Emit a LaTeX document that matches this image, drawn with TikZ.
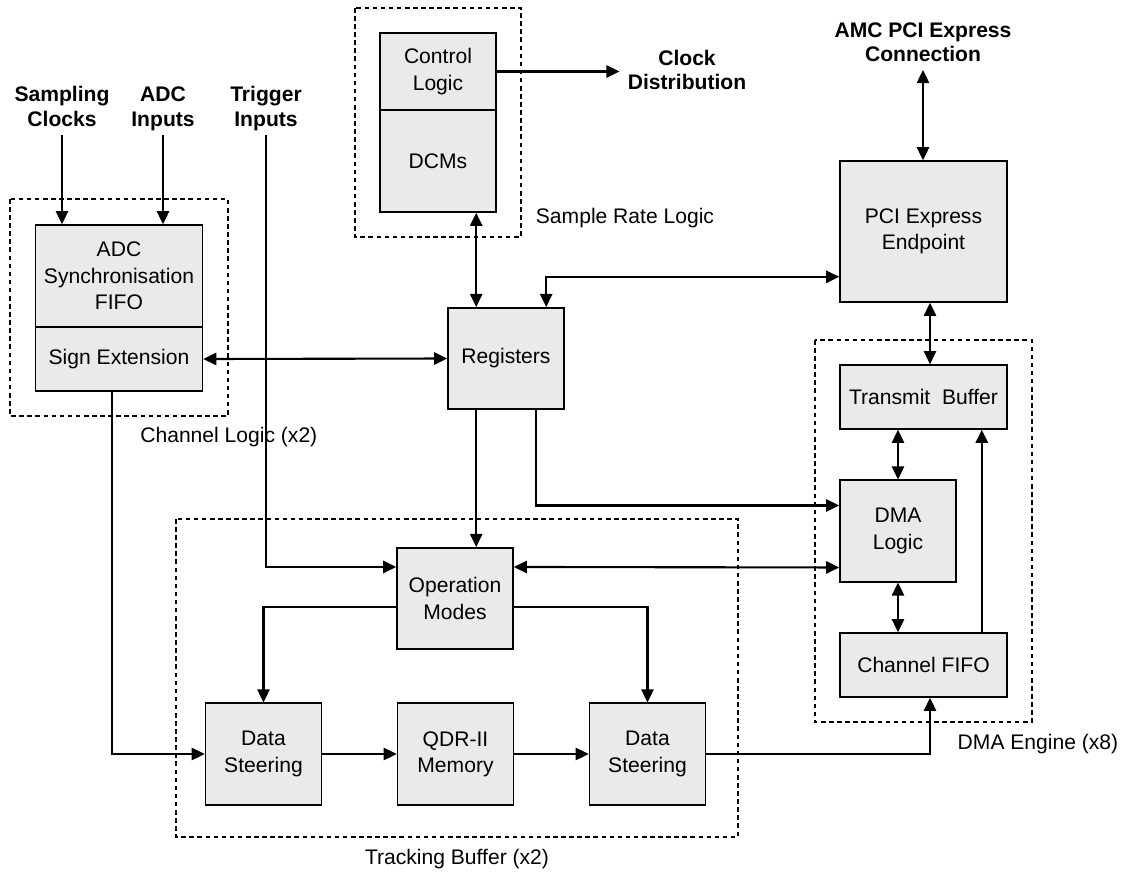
\documentclass[tikz,border=0pt]{standalone}
\usepackage{fontspec}
\setmainfont{Liberation Sans}
\usetikzlibrary{arrows.meta,calc}
\definecolor{blockfill}{RGB}{234,234,234}
\tikzstyle{block}=[draw, line width=0.9pt, fill=blockfill, align=center, inner sep=0pt, font=\fontsize{12}{15}\selectfont]
\tikzstyle{std}=[minimum width=2.32cm, minimum height=2.03cm]
\tikzstyle{wide}=[minimum width=3.34cm]
\tikzstyle{io}=[align=center, inner sep=0.16cm, text depth=0pt, font=\fontsize{12}{14}\selectfont\bfseries]
\tikzstyle{grouplabel}=[inner sep=0pt, font=\fontsize{12}{14}\selectfont]
\tikzstyle{group}=[dash pattern=on 2.6pt off 2pt, line width=0.7pt]
\tikzstyle{arr}=[-{Triangle[length=7.5pt,width=7pt]}, line width=1.2pt]
\tikzstyle{dbl}=[{Triangle[length=7.5pt,width=7pt]}-{Triangle[length=7.5pt,width=7pt]}, line width=1.2pt]

\begin{document}
\begin{tikzpicture}[x=0.02cm,y=-0.02cm]
  \useasboundingbox (0,0) rectangle (1127,873);
  %% Groups
  \draw[group] (355,8) rectangle (521,237);
  \draw[group] (10,199) rectangle (228,416);
  \draw[group] (176,519) rectangle (738,837);
  \draw[group] (815,340) rectangle (1032,722);
  \draw (625,218) node[grouplabel] {Sample Rate Logic};
  \draw (140,437) node[grouplabel, anchor=west] {Channel Logic (x2)};
  \draw (457,859) node[grouplabel] {Tracking Buffer (x2)};
  \draw (1038,744) node[grouplabel] {DMA Engine (x8)};

  %% Outside connections
  \draw (62,106.5) node[io] (sclk) {Sampling\\Clocks};
  \draw (163,106.5) node[io] (adcin) {ADC\\Inputs};
  \draw (266,106.5) node[io] (trig) {Trigger\\Inputs};
  \draw (687,70) node[io] (clkdist) {Clock\\Distribution};
  \draw (923,42) node[io] (amc) {AMC PCI Express\\Connection};

  %% Blocks
  \draw (438,71.5) node[block, minimum width=2.32cm, minimum height=1.54cm] (ctrl) {Control\\Logic};
  \draw (438,161) node[block, minimum width=2.32cm, minimum height=2.04cm] (dcm) {DCMs};
  \draw (119,276) node[block, wide, minimum height=2.04cm] (adcfifo) {ADC\\Synchronisation\\FIFO};
  \draw (119,359) node[block, wide, minimum height=1.28cm] (signext) {Sign Extension};
  \draw (506,358.5) node[block, std] (reg) {Registers};
  \draw (923.5,231.5) node[block, wide, minimum height=2.82cm] (pcie) {PCI Express\\Endpoint};
  \draw (923.5,397) node[block, wide, minimum height=1.28cm] (txbuf) {Transmit~~Buffer};
  \draw (898,531) node[block, std] (dmalogic) {DMA\\Logic};
  \draw (923.5,665) node[block, wide, minimum height=1.28cm] (chfifo) {Channel FIFO};
  \draw (455,598.5) node[block, std] (opmodes) {Operation\\Modes};
  \draw (263.5,754) node[block, std] (dsl) {Data\\Steering};
  \draw (455.5,754) node[block, std] (qdr) {QDR-II\\Memory};
  \draw (647.5,754) node[block, std] (dsr) {Data\\Steering};

  \coordinate (bus) at ($(reg.north west)+(29,0)$);

  %% Connectors
  \draw[arr] (sclk.south) -- (sclk.south |- adcfifo.north);
  \draw[arr] (adcin.south) -- (adcin.south |- adcfifo.north);
  \draw[arr] (trig.south) |- ($(opmodes.north west)+(0,20)$);
  \draw[arr] (ctrl.east) -- (ctrl.east -| clkdist.west);
  \draw[dbl] (amc.south) -- (amc.south |- pcie.north);
  \draw[dbl] (dcm.south -| bus) -- (bus);
  \draw[dbl] (signext.east) -- (reg.west);
  \draw[dbl] ($(pcie.south west)+(0,-26)$) -| ($(reg.north west)+(99,0)$);
  \draw[arr] (reg.south -| bus) -- (opmodes.north -| bus);
  \draw[arr] ($(reg.south west)+(89,0)$) |- ($(dmalogic.north west)+(0,26)$);
  \draw[dbl] ($(opmodes.north east)+(0,20)$) -- ($(dmalogic.north west)+(0,88)$);
  \draw[dbl] ($(pcie.south)+(6.5,0)$) -- ($(txbuf.north)+(6.5,0)$);
  \draw[dbl] (dmalogic.north) -- (txbuf.south -| dmalogic.north);
  \draw[dbl] (dmalogic.south) -- (chfifo.north -| dmalogic.south);
  \draw[arr] ($(chfifo.north east)+(-26,0)$) -- ($(txbuf.south east)+(-26,0)$);
  \draw[arr] ($(opmodes.north west)+(0,60)$) -| (dsl.north);
  \draw[arr] ($(opmodes.north east)+(0,60)$) -| (dsr.north);
  \draw[arr] ($(signext.south)+(-7,0)$) |- (dsl.west);
  \draw[arr] (dsl) -- (qdr);
  \draw[arr] (qdr) -- (dsr);
  \draw[arr] (dsr.east) -| ($(chfifo.south)+(6.5,0)$);
\end{tikzpicture}
\end{document}
